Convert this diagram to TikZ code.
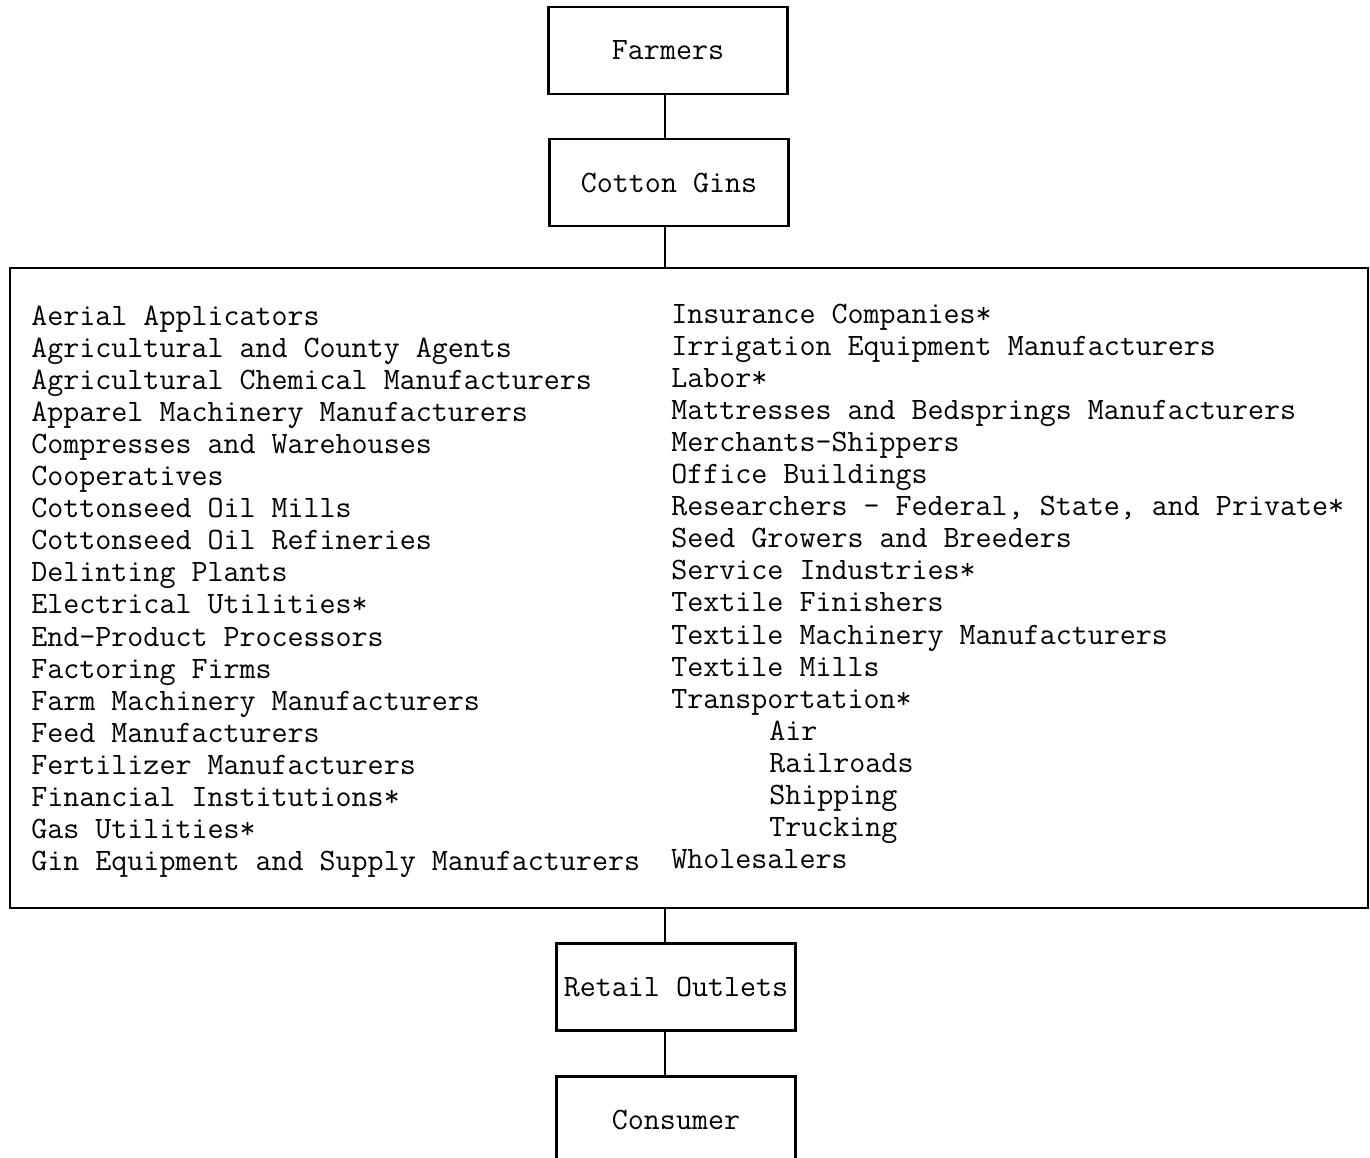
\documentclass[tikz,border=0pt]{standalone}
\usepackage{tikz}
\usetikzlibrary{positioning,calc}

\begin{document}
\begin{tikzpicture}[
  tw/.style={font=\ttfamily\fontsize{17.7}{18.3}\selectfont},
  box/.style={draw, tw, line width=1.3pt, minimum width=4.78cm, minimum height=1.74cm, inner sep=0pt, align=center},
  item/.style={tw, anchor=base west, inner sep=0pt},
  link/.style={line width=1pt}
]
  \fill[white] (0,0) rectangle (27.4,-23.14);
  \useasboundingbox (0,0) rectangle (27.4,-23.14);

  \coordinate (spine) at (13.3,0);

  \node[box] (farmers) at (13.36,-1.01) {Farmers};
  \node[box] (gins) at (13.38,-3.65) {Cotton Gins};
  \node[draw, line width=1.3pt, minimum width=27.16cm, minimum height=12.8cm, inner sep=0pt] (members) at (13.78,-11.76) {};
  \node[box] (retail) at (13.52,-19.74) {Retail Outlets};
  \node[box] (consumer) at (13.52,-22.40) {Consumer};

  % left column
  \foreach \txt [count=\i] in {Aerial Applicators, Agricultural and County Agents,
      Agricultural Chemical Manufacturers, Apparel Machinery Manufacturers,
      Compresses and Warehouses, Cooperatives, Cottonseed Oil Mills,
      Cottonseed Oil Refineries, Delinting Plants, Electrical Utilities*,
      End-Product Processors, Factoring Firms, Farm Machinery Manufacturers,
      Feed Manufacturers, Fertilizer Manufacturers, Financial Institutions*,
      Gas Utilities*, Gin Equipment and Supply Manufacturers}
    \node[item] (l\i) at (0.62,{-6.5-0.642*(\i-1)}) {\txt};

  % right column
  \foreach \dx/\txt [count=\i] in {0/Insurance Companies*, 0/Irrigation Equipment Manufacturers,
      0/Labor*, 0/Mattresses and Bedsprings Manufacturers, 0/Merchants-Shippers,
      0/Office Buildings, 0/{Researchers - Federal, State, and Private*},
      0/Seed Growers and Breeders, 0/Service Industries*, 0/Textile Finishers,
      0/Textile Machinery Manufacturers, 0/Textile Mills, 0/Transportation*,
      1.96/Air, 1.96/Railroads, 1.96/Shipping, 1.96/Trucking, 0/Wholesalers}
    \node[item] (r\i) at ({13.42+\dx},{-6.46-0.642*(\i-1)}) {\txt};

  \draw[link] (farmers.south -| spine) -- (gins.north -| spine);
  \draw[link] (gins.south -| spine) -- (members.north -| spine);
  \draw[link] (members.south -| spine) -- (retail.north -| spine);
  \draw[link] (retail.south -| spine) -- (consumer.north -| spine);
\end{tikzpicture}
\end{document}
